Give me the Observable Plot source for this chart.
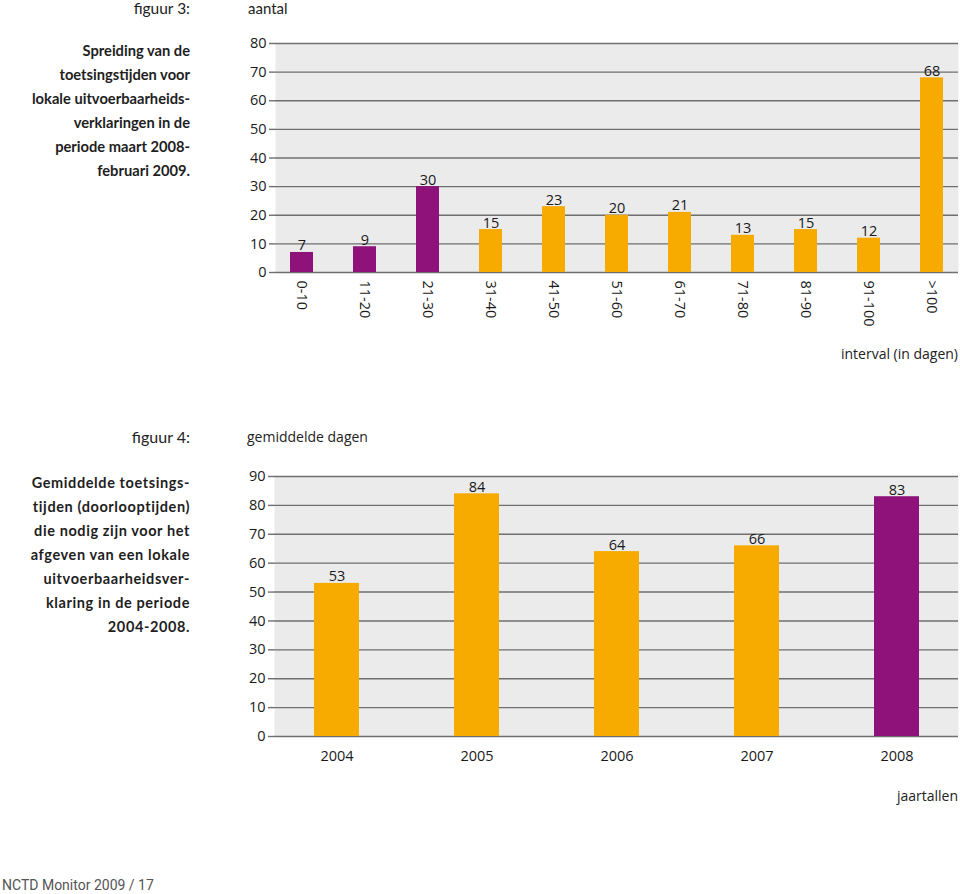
<!DOCTYPE html>
<html>
<head>
<meta charset="utf-8">
<script src="https://cdn.jsdelivr.net/npm/d3@7"></script>
<script src="https://cdn.jsdelivr.net/npm/@observablehq/plot@0.6"></script>
<style>
  html, body { margin: 0; padding: 0; background: #fff; }
  #page { position: relative; width: 960px; height: 894px; font-family: "Open Sans", sans-serif; color: #222; overflow: hidden; }
  .abs { position: absolute; white-space: nowrap; }
  .lbl { font-size: 14px; line-height: 16px; color: #222; }
  .fig { font-family: Lato, sans-serif; font-size: 16px; line-height: 16px; color: #222; }
  .desc { font-family: Lato, sans-serif; font-weight: bold; font-size: 14.7px; line-height: 24px; text-align: right; color: #1e1e1e; }
  .plot { position: absolute; left: 0; }
</style>
</head>
<body>
<div id="page">
  <div id="fig3" class="plot" style="top:0px;"></div>
  <div id="fig4" class="plot" style="top:420px;"></div>

  <div class="abs fig" style="right:770px; top:1px; line-height:14px; font-size:15.5px;">figuur 3:</div>
  <div class="abs" style="left:248px; top:0px; font-family:Lato, sans-serif; font-size:15px; line-height:17px; color:#222;">aantal</div>
  <div class="abs desc" style="right:770px; top:38px;">Spreiding van de<br>toetsingstijden voor<br>lokale uitvoerbaarheids-<br>verklaringen in de<br>periode maart 2008-<br>februari 2009.</div>
  <div class="abs lbl" style="right:2px; top:346px;">interval (in dagen)</div>

  <div class="abs fig" style="right:770px; top:429px;">figuur 4:</div>
  <div class="abs lbl" style="left:247px; top:429px;">gemiddelde dagen</div>
  <div class="abs desc" style="right:770px; top:471px; letter-spacing:0.6px; font-size:14.5px;">Gemiddelde toetsings-<br>tijden (doorlooptijden)<br>die nodig zijn voor het<br>afgeven van een lokale<br>uitvoerbaarheidsver-<br>klaring in de periode<br>2004-2008.</div>
  <div class="abs lbl" style="right:2px; top:788px;">jaartallen</div>

  <div class="abs" style="left:2px; top:876px; font-family:Roboto, sans-serif; font-size:14px; line-height:18px; color:#555;">NCTD Monitor 2009 / 17</div>
</div>
<script>
// ---- figuur 3 data ----
const intervals = ["0-10", "11-20", "21-30", "31-40", "41-50", "51-60", "61-70", "71-80", "81-90", "91-100", ">100"];
const counts = [7, 9, 30, 15, 23, 20, 21, 13, 15, 12, 68];
const intervalGroup = ["t/m 30", "t/m 30", "t/m 30", "> 30", "> 30", "> 30", "> 30", "> 30", "> 30", "> 30", "> 30"];
const yTicks3 = [0, 10, 20, 30, 40, 50, 60, 70, 80];

// ---- figuur 4 data ----
const years = ["2004", "2005", "2006", "2007", "2008"];
const avgDays = [53, 84, 64, 66, 83];
const yearGroup = ["eerder", "eerder", "eerder", "eerder", "2008"];
const yTicks4 = [0, 10, 20, 30, 40, 50, 60, 70, 80, 90];

const PURPLE = "#8e1279";
const ORANGE = "#f7aa00";
const GRID = "#6f6f6f";
const PANEL = "#ebebeb";

const data3 = intervals.map((k, i) => ({interval: k, count: counts[i], group: intervalGroup[i]}));
const data4 = years.map((k, i) => ({year: k, days: avgDays[i], group: yearGroup[i]}));

const baseStyle = {fontFamily: "'Open Sans', sans-serif", fontSize: "14px", color: "#1a1a1a", background: "transparent", overflow: "visible"};

const fig3 = Plot.plot({
  width: 960,
  height: 370,
  marginLeft: 275,
  marginRight: 2,
  marginTop: 43,
  marginBottom: 98,
  style: baseStyle,
  x: {domain: intervals, paddingInner: 0.64, paddingOuter: 0.156, label: null},
  y: {domain: [0, 80], label: null},
  color: {domain: ["t/m 30", "> 30"], range: [PURPLE, ORANGE]},
  marks: [
    Plot.frame({fill: PANEL, stroke: null}),
    Plot.gridY(yTicks3, {stroke: GRID, strokeOpacity: 1, strokeWidth: 1.4}),
    Plot.barY(data3, {x: "interval", y: "count", fill: "group"}),
    Plot.text(data3, {x: "interval", y: "count", text: d => String(d.count), lineAnchor: "bottom", dy: -2, fontSize: 14.5, fill: "#1a1a1a"}),
    Plot.axisY(yTicks3, {tickSize: 6, tickPadding: 3, stroke: GRID, strokeWidth: 1.4, fontSize: 14.5, label: null}),
    Plot.axisX({tickSize: 0, tickPadding: 8, tickRotate: 90, fontSize: 14.5, label: null})
  ]
});
document.getElementById("fig3").appendChild(fig3);

const fig4 = Plot.plot({
  width: 960,
  height: 400,
  marginLeft: 274,
  marginRight: 2,
  marginTop: 56,
  marginBottom: 84,
  style: baseStyle,
  x: {domain: years, paddingInner: 0.68, paddingOuter: 0.272, label: null},
  y: {domain: [0, 90], label: null},
  color: {domain: ["eerder", "2008"], range: [ORANGE, PURPLE]},
  marks: [
    Plot.frame({fill: PANEL, stroke: null}),
    Plot.gridY(yTicks4, {stroke: GRID, strokeOpacity: 1, strokeWidth: 1.4}),
    Plot.barY(data4, {x: "year", y: "days", fill: "group"}),
    Plot.text(data4, {x: "year", y: "days", text: d => String(d.days), lineAnchor: "bottom", dy: -2, fontSize: 14.5, fill: "#1a1a1a"}),
    Plot.axisY(yTicks4, {tickSize: 6, tickPadding: 3, stroke: GRID, strokeWidth: 1.4, fontSize: 14.5, label: null}),
    Plot.axisX({tickSize: 0, tickPadding: 14, fontSize: 14.5, label: null})
  ]
});
document.getElementById("fig4").appendChild(fig4);
</script>
</body>
</html>
